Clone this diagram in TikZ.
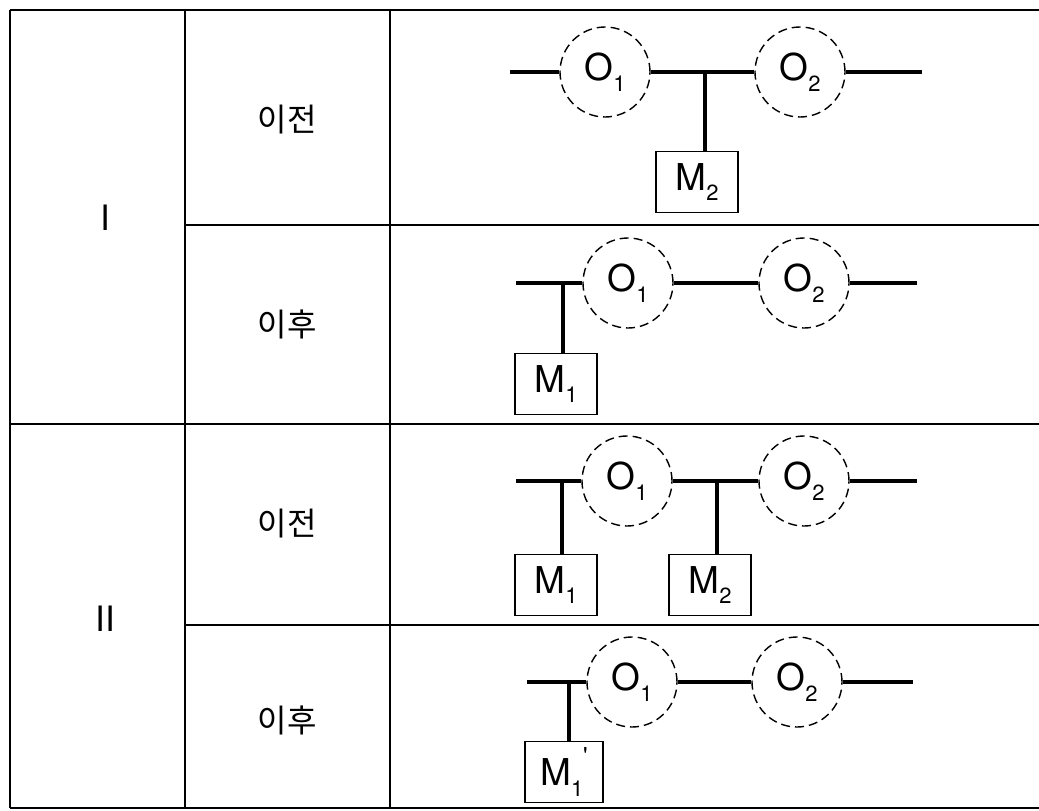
\documentclass[tikz,border=0pt]{standalone}
\usepackage{fontspec}
\setmainfont{TeX Gyre Heros}
\newfontfamily\kr{Noto Sans CJK KR}
\newcommand{\lowidx}[1]{\raisebox{-0.55ex}{\fontsize{22}{22}\selectfont #1}}

\begin{document}
\begin{tikzpicture}[x=1pt, y=-1pt,
	wire/.style={line width=3.5pt},
	grid/.style={line width=1.8pt},
	obj/.style={circle, draw, dashed, dash pattern=on 9pt off 5pt, line width=1.4pt,
		minimum size=90pt, inner sep=0pt, font=\fontsize{37}{40}\selectfont},
	mbox/.style={draw, line width=1.6pt, minimum width=82pt, minimum height=61pt,
		inner sep=0pt, font=\fontsize{37}{40}\selectfont},
	lbl/.style={font=\kr\fontsize{32}{36}\selectfont},
	num/.style={font=\fontsize{35}{38}\selectfont}]
	\useasboundingbox (0, 0) rectangle (1039, 811);

	% table
	\draw [grid] (10, 10) -- (1039, 10);
	\draw [grid] (185, 225) -- (1039, 225);
	\draw [grid] (10, 424) -- (1039, 424);
	\draw [grid] (185, 625) -- (1039, 625);
	\draw [grid] (10, 808) -- (1039, 808);
	\draw [grid] (10, 10) -- (10, 808);
	\draw [grid] (185, 10) -- (185, 808);
	\draw [grid] (390, 10) -- (390, 808);

	\node [num] (caseI) at (105, 218) {I};
	\node [num] (caseII) at (105, 619) {II};
	\node [lbl] (rowa) at (287, 120) {이전};
	\node [lbl] (rowb) at (287, 324) {이후};
	\node [lbl] (rowc) at (287, 524) {이전};
	\node [lbl] (rowd) at (287, 720) {이후};

	% I, before
	\coordinate (a0) at (510, 72);
	\node [obj] (ao1) at (605, 72) {O\lowidx{1}};
	\coordinate (aj) at (705, 72);
	\node [obj] (ao2) at (800, 72) {O\lowidx{2}};
	\coordinate (a9) at (922, 72);
	\node [mbox] (am2) at (697, 182) {M\lowidx{2}};
	\draw [wire] (a0) -- (ao1.west);
	\draw [wire] (ao1.east) -- (ao2.west);
	\draw [wire] (ao2.east) -- (a9);
	\draw [wire] (aj) -- (aj |- am2.north);

	% I, after
	\coordinate (b0) at (516, 283);
	\coordinate (bj) at (563, 283);
	\node [obj] (bo1) at (628, 283) {O\lowidx{1}};
	\node [obj] (bo2) at (804, 283) {O\lowidx{2}};
	\coordinate (b9) at (917, 283);
	\node [mbox] (bm1) at (556, 384) {M\lowidx{1}};
	\draw [wire] (b0) -- (bo1.west);
	\draw [wire] (bo1.east) -- (bo2.west);
	\draw [wire] (bo2.east) -- (b9);
	\draw [wire] (bj) -- (bj |- bm1.north);

	% II, before
	\coordinate (c0) at (516, 481);
	\coordinate (cj) at (562, 481);
	\node [obj] (co1) at (627, 481) {O\lowidx{1}};
	\coordinate (ck) at (717, 481);
	\node [obj] (co2) at (804, 481) {O\lowidx{2}};
	\coordinate (c9) at (917, 481);
	\node [mbox] (cm1) at (556, 585) {M\lowidx{1}};
	\node [mbox] (cm2) at (710, 585) {M\lowidx{2}};
	\draw [wire] (c0) -- (co1.west);
	\draw [wire] (co1.east) -- (co2.west);
	\draw [wire] (co2.east) -- (c9);
	\draw [wire] (cj) -- (cj |- cm1.north);
	\draw [wire] (ck) -- (ck |- cm2.north);

	% II, after
	\coordinate (d0) at (527, 682);
	\coordinate (dj) at (569, 682);
	\node [obj] (do1) at (632, 682) {O\lowidx{1}};
	\node [obj] (do2) at (797, 682) {O\lowidx{2}};
	\coordinate (d9) at (913, 682);
	\node [mbox, minimum width=78pt] (dm1) at (564, 772)
		{M\lowidx{1}\raisebox{1.1ex}{\fontsize{24}{24}\selectfont\textquotesingle}};
	\draw [wire] (d0) -- (do1.west);
	\draw [wire] (do1.east) -- (do2.west);
	\draw [wire] (do2.east) -- (d9);
	\draw [wire] (dj) -- (dj |- dm1.north);
\end{tikzpicture}
\end{document}
